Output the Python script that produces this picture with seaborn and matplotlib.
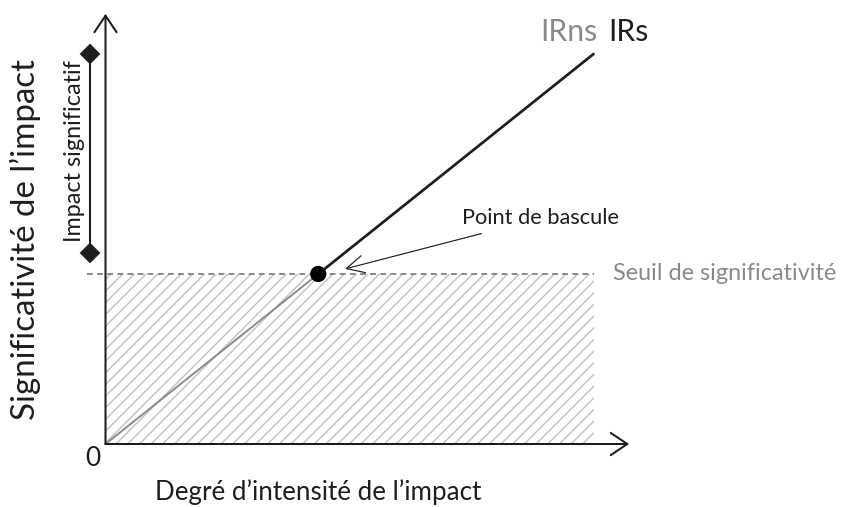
import matplotlib
matplotlib.use("Agg")
import matplotlib.pyplot as plt
import pandas as pd
import seaborn as sns

# conceptual values (arbitrary units)
threshold = 4.36                      # seuil de significativité
intensity_ns = [0.0, threshold]       # IRns segment (below threshold)
signif_ns = [0.0, threshold]
intensity_s = [threshold, 10.0]       # IRs segment (above threshold)
signif_s = [threshold, 10.0]
tipping_point = [threshold, threshold]
significant_range = [4.90, 10.0]      # bracket "Impact significatif"
x_max = 10.0

sns.set_theme(style="white")
plt.rcParams["font.family"] = ["Lato", "DejaVu Sans"]
plt.rcParams["hatch.linewidth"] = 0.75

DPI = 140
fig = plt.figure(figsize=(850 / DPI, 507 / DPI), dpi=DPI)
ax = fig.add_axes([0, 0, 1, 1])
ax.set_xlim(-2.162, 15.256)
ax.set_ylim(-1.615, 11.385)
ax.axis("off")

grey = "#8a8a8a"
dark = "#1e1e1e"

# hatched non-significant zone
ax.fill_between([0, x_max], 0, threshold, facecolor="none",
                edgecolor="#c2c2c2", hatch="////", linewidth=0, zorder=1)

# threshold line
ax.plot([-0.38, x_max], [threshold, threshold], color=grey, lw=1.0,
        linestyle=(0, (3, 2.2)), zorder=2)

# IR lines
df_ns = pd.DataFrame({"x": intensity_ns, "y": signif_ns})
df_s = pd.DataFrame({"x": intensity_s, "y": signif_s})
sns.lineplot(data=df_ns, x="x", y="y", color=grey, lw=1.0, ax=ax, zorder=3)
sns.lineplot(data=df_s, x="x", y="y", color=dark, lw=1.4, ax=ax, zorder=3)

# tipping point
sns.scatterplot(x=[tipping_point[0]], y=[tipping_point[1]], color="black",
                s=70, edgecolor="none", ax=ax, zorder=5)

# axes with arrows
arrow_kw = dict(arrowstyle="->,head_length=0.85,head_width=0.57",
                lw=1.05, color=dark, mutation_scale=10,
                shrinkA=0, shrinkB=0)
ax.annotate("", xy=(10.73, 0), xytext=(0, 0), arrowprops=arrow_kw)
ax.annotate("", xy=(0, 11.03), xytext=(0, 0), arrowprops=arrow_kw)

# bracket "Impact significatif"
ax.plot([-0.318, -0.318], significant_range, color=dark, lw=1.05,
        marker="D", markersize=6.5, zorder=4)
ax.text(-0.64, sum(significant_range) / 2 + 0.05, "Impact significatif",
        rotation=90, ha="center", va="center", fontsize=12, color=dark)

# labels
ax.text(-0.256, -0.36, "0", ha="center", va="center", fontsize=13.5, color=dark)
ax.text(4.35, -1.23, "Degré d’intensité de l’impact", ha="center",
        va="center", fontsize=13.4, color=dark)
ax.text(-1.65, 5.23, "Significativité de l’impact", ha="center",
        va="center", rotation=90, fontsize=17, color=dark)

ax.text(8.9, 10.56, "IRns", ha="left", va="center", fontsize=15.5, color=grey)
ax.text(10.3, 10.56, "IRs", ha="left", va="center", fontsize=15.5, color=dark)

ax.text(10.4, threshold, "Seuil de significativité", ha="left",
        va="center", fontsize=12, color=grey)

ax.annotate("Point de bascule", xy=(4.91, 4.49), xytext=(7.31, 5.79),
            ha="left", va="center", fontsize=11.2, color=dark,
            arrowprops=dict(arrowstyle="->,head_length=0.9,head_width=0.45",
                            lw=0.6, color=dark, mutation_scale=10,
                            shrinkA=2, shrinkB=0))

fig.savefig("out.png", dpi=DPI)
